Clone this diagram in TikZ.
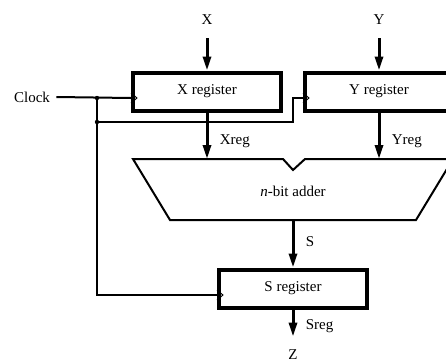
\documentclass[tikz,border=0pt]{standalone}
\usepackage{fontspec}
\setmainfont{Liberation Serif}
\usetikzlibrary{arrows.meta,positioning}
\newcommand\clocktri[1]{\draw[clk] ([yshift=5pt]#1) -- ([xshift=6pt]#1) -- ([yshift=-5pt]#1);}

\begin{document}
\begin{tikzpicture}[% one unit is one pixel of the reference, y going down
			x=1pt,y=-1pt,
			every node/.style={
				font=\fontsize{15}{17}\selectfont
			},
			reg/.style={rectangle,draw=black,line width=4pt,minimum width=148pt,minimum height=38pt,inner sep=0pt},
			bus/.style={draw,line width=3pt,-{Triangle[length=14pt,width=8pt]}},
			wire/.style={draw,line width=2pt},
			clk/.style={line width=0.9pt}
		]
		\clip (0,0) rectangle (446,362);
		\node[reg](Xr) at (207,91.5){X register};
		\node[reg](Yr) at (379,91.5){Y register};
		\node[reg](Sr) at (293,288.5){S register};
		\node(X) at (207,20){X};
		\node(Y) at (379,20){Y};
		\node(Z) at (293,355){Z};
		\node(Clock) at (32,97){Clock};
		\node(Add) at (293,191){\textit{n}-bit adder};
		% adder outline
		\coordinate (Xin) at (207,159);
		\coordinate (Yin) at (379,159);
		\coordinate (Sout) at (293,220);
		\draw[line width=2pt] (133,159) -- (283,159) -- (293,170) -- (305,159) -- (453,159)
			-- (416,220) -- (170,220) -- cycle;
		% clock inputs
		\coordinate (Xck) at ([yshift=-6.5pt]Xr.west);
		\coordinate (Yck) at ([yshift=-6.5pt]Yr.west);
		\coordinate (Sck) at ([yshift=-6.5pt]Sr.west);
		\coordinate (j1) at (97,98);
		\coordinate (j2) at (97,122);
		\coordinate (bend) at (293,122);
		\draw[wire] ([xshift=3pt]Clock.east) -- (Xck);
		\draw[wire] (j1) |- (Sck);
		\draw[wire] (j2) -- (bend) |- (Yck);
		\fill (j1) circle (2.2pt) (j2) circle (2.2pt);
		\clocktri{Xck}
		\clocktri{Yck}
		\clocktri{Sck}
		\path
		([yshift=-10pt]X.south)edge[bus] (Xr)
		([yshift=-10pt]Y.south)edge[bus] (Yr)
		(Xr)edge[bus] node[pos=0.62,right=8pt] {Xreg} (Xin)
		(Yr)edge[bus] node[pos=0.62,right=8pt] {Yreg} (Yin)
		(Sout)edge[bus] node[pos=0.45,right=8pt] {S} (Sr)
		(Sr)edge[bus] node[pos=0.6,right=8pt] {Sreg} ([yshift=10pt]Z.north)
		;
	\end{tikzpicture}
\end{document}
